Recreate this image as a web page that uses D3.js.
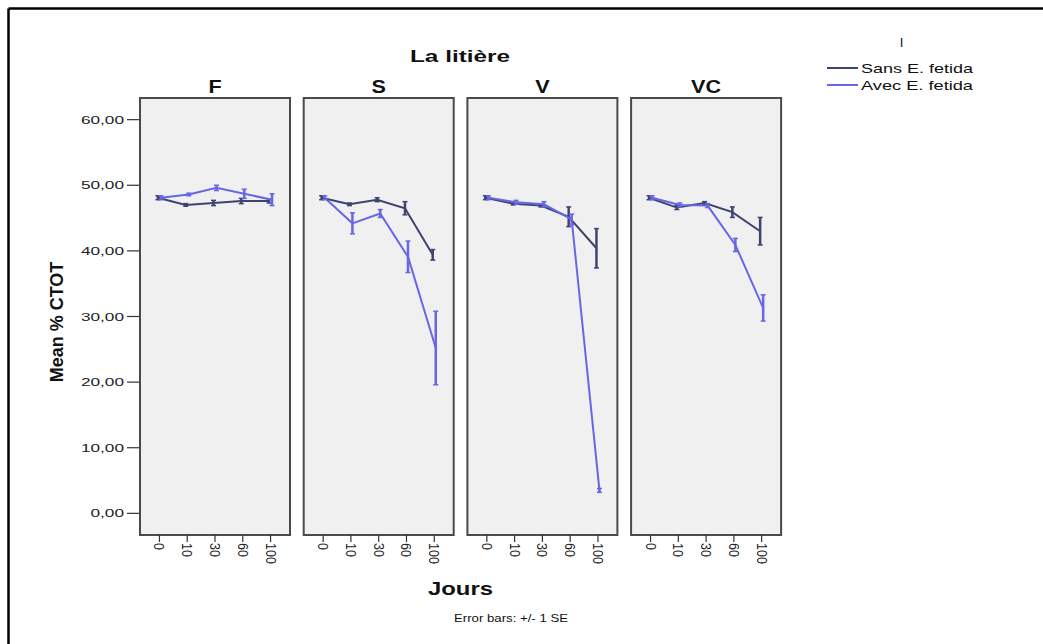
<!DOCTYPE html>
<html>
<head>
<meta charset="utf-8">
<script src="https://cdn.jsdelivr.net/npm/d3@7"></script>
<style>
  html, body { margin: 0; padding: 0; background: #fff; }
  svg { display: block; font-family: "Liberation Sans", Arial, sans-serif; }
</style>
</head>
<body>
<svg id="chart" width="1043" height="644"></svg>
<script>
// Days of sampling (categorical x axis) and litter treatments (panels)
const days = ["0", "10", "30", "60", "100"];
const litters = ["F", "S", "V", "VC"];
const seriesNames = ["Sans E. fetida", "Avec E. fetida"];
const yTicks = [0, 10, 20, 30, 40, 50, 60];

// Mean % CTOT per litter, without / with earthworms
const sansMean = {
  F:  [48.1, 47.0, 47.3, 47.6, 47.6],
  S:  [48.1, 47.1, 47.8, 46.5, 39.4],
  V:  [48.1, 47.2, 46.9, 45.2, 40.4],
  VC: [48.1, 46.6, 47.3, 45.9, 43.0]
};
const avecMean = {
  F:  [48.1, 48.6, 49.6, 48.7, 47.8],
  S:  [48.1, 44.2, 45.7, 39.1, 25.2],
  V:  [48.1, 47.4, 47.1, 44.8, 3.5],
  VC: [48.1, 47.0, 46.9, 40.9, 31.3]
};
// Standard errors
const sansSE = {
  F:  [0.3, 0.2, 0.4, 0.4, 0.3],
  S:  [0.3, 0.2, 0.3, 1.0, 0.8],
  V:  [0.3, 0.2, 0.2, 1.5, 3.0],
  VC: [0.3, 0.3, 0.2, 0.8, 2.1]
};
const avecSE = {
  F:  [0.3, 0.2, 0.4, 0.7, 0.9],
  S:  [0.3, 1.6, 0.6, 2.4, 5.6],
  V:  [0.3, 0.3, 0.4, 0.8, 0.3],
  VC: [0.3, 0.3, 0.3, 1.0, 2.0]
};

const colors = ["#3f4370", "#6767e6"];
const dodge = [-1.5, 1.5];

const svg = d3.select("#chart");

// outer frame (top and left edges)
svg.append("line").attr("x1", 8.5).attr("x2", 1043).attr("y1", 8.5).attr("y2", 8.5)
  .attr("stroke", "#000").attr("stroke-width", 2.5);
svg.append("line").attr("x1", 8.5).attr("x2", 8.5).attr("y1", 8.5).attr("y2", 644)
  .attr("stroke", "#000").attr("stroke-width", 2.5);

const panelTop = 98, panelBottom = 535, panelW = 150, panelLeft0 = 140, panelStep = 163.7;

const y = d3.scaleLinear().domain([-3.3, 63.3]).range([panelBottom, panelTop]);
const fmt = v => d3.format(".2f")(v).replace(".", ",");

// y axis
const yAxis = svg.append("g");
yTicks.forEach(t => {
  yAxis.append("line").attr("x1", panelLeft0 - 13).attr("x2", panelLeft0)
    .attr("y1", y(t)).attr("y2", y(t)).attr("stroke", "#333").attr("stroke-width", 1.2);
  yAxis.append("text")
    .attr("transform", `translate(${panelLeft0 - 16},${y(t) + 4}) scale(1.5,1)`)
    .attr("text-anchor", "end").attr("font-size", 11.5).attr("fill", "#222")
    .text(fmt(t));
});

litters.forEach((lit, i) => {
  const left = panelLeft0 + i * panelStep;
  const x = d3.scalePoint().domain(days).range([left, left + panelW]).padding(0.7);
  const g = svg.append("g");

  g.append("rect").attr("x", left).attr("y", panelTop).attr("width", panelW)
    .attr("height", panelBottom - panelTop).attr("fill", "#f0f0f0")
    .attr("stroke", "#4a4a4a").attr("stroke-width", 2);

  // facet label
  g.append("text")
    .attr("transform", `translate(${left + panelW / 2},93) scale(1.2,1)`)
    .attr("text-anchor", "middle").attr("font-size", 18).attr("font-weight", "bold")
    .attr("fill", "#111").text(lit);

  // x ticks and rotated labels
  days.forEach(d => {
    g.append("line").attr("x1", x(d)).attr("x2", x(d))
      .attr("y1", panelBottom).attr("y2", panelBottom + 7)
      .attr("stroke", "#333").attr("stroke-width", 1.2);
    g.append("text")
      .attr("transform", `translate(${x(d) - 5},${panelBottom + 8}) scale(1.15,1) rotate(90)`)
      .attr("text-anchor", "start").attr("font-size", 12.5).attr("fill", "#222")
      .text(d);
  });

  const sets = [[sansMean[lit], sansSE[lit]], [avecMean[lit], avecSE[lit]]];
  sets.forEach(([means, ses], s) => {
    const pts = days.map((d, k) => ({ x: x(d) + dodge[s], m: means[k], se: ses[k] }));
    const line = d3.line().x(p => p.x).y(p => y(p.m));
    g.append("path").datum(pts).attr("d", line).attr("fill", "none")
      .attr("stroke", colors[s]).attr("stroke-width", 2);
    pts.forEach(p => {
      const y1 = y(p.m - p.se), y2 = y(p.m + p.se);
      g.append("line").attr("x1", p.x).attr("x2", p.x).attr("y1", y1).attr("y2", y2)
        .attr("stroke", colors[s]).attr("stroke-width", 2.5);
      [y1, y2].forEach(yy => g.append("line").attr("x1", p.x - 2.5).attr("x2", p.x + 2.5)
        .attr("y1", yy).attr("y2", yy).attr("stroke", colors[s]).attr("stroke-width", 1.5));
    });
  });
});

// titles
svg.append("text").attr("x", 460).attr("y", 62).attr("text-anchor", "middle")
  .attr("font-size", 17).attr("font-weight", "bold").attr("fill", "#111")
  .attr("textLength", 100).attr("lengthAdjust", "spacingAndGlyphs").text("La litière");

svg.append("text").attr("transform", "translate(63,322) rotate(-90)")
  .attr("text-anchor", "middle").attr("font-size", 18).attr("font-weight", "bold")
  .attr("fill", "#111").text("Mean % CTOT");

svg.append("text").attr("x", 460.5).attr("y", 595).attr("text-anchor", "middle")
  .attr("font-size", 18).attr("font-weight", "bold").attr("fill", "#111")
  .attr("textLength", 65).attr("lengthAdjust", "spacingAndGlyphs").text("Jours");

svg.append("text").attr("x", 454).attr("y", 622)
  .attr("font-size", 10.5).attr("fill", "#111")
  .attr("textLength", 114).attr("lengthAdjust", "spacingAndGlyphs").text("Error bars: +/- 1 SE");

// legend
svg.append("text").attr("x", 901.5).attr("y", 47).attr("text-anchor", "middle")
  .attr("font-size", 13).attr("fill", "#111").text("I");
seriesNames.forEach((name, s) => {
  const ly = 68 + s * 17;
  svg.append("line").attr("x1", 827).attr("x2", 858).attr("y1", ly).attr("y2", ly)
    .attr("stroke", colors[s]).attr("stroke-width", 2);
  svg.append("text").attr("x", 861).attr("y", ly + 5)
    .attr("font-size", 13).attr("fill", "#111")
    .attr("textLength", 112).attr("lengthAdjust", "spacingAndGlyphs").text(name);
});
</script>
</body>
</html>
